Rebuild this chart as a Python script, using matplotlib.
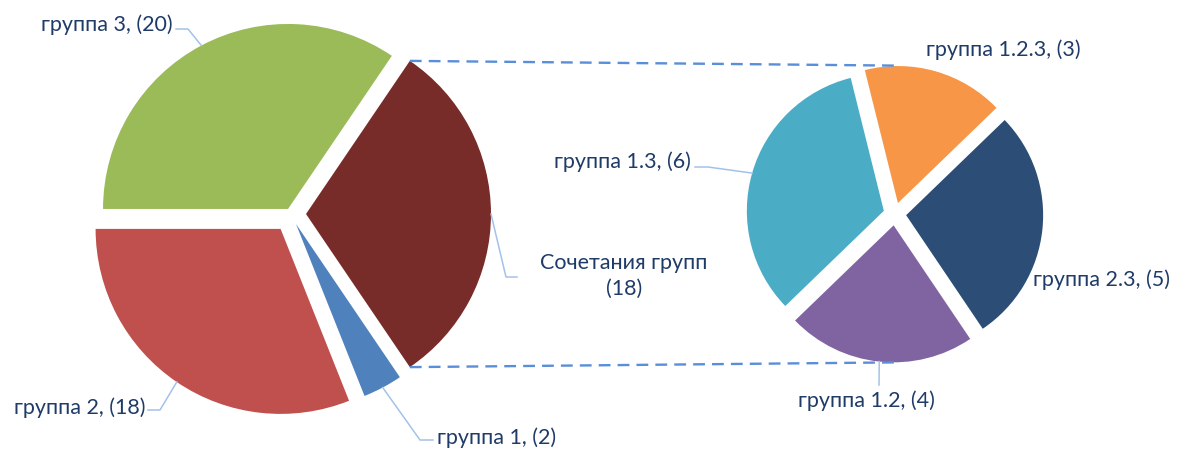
import matplotlib.pyplot as plt
import numpy as np

# данные: основная диаграмма и вторичная (сочетания групп)
main_labels = ['Сочетания групп', 'группа 3', 'группа 2', 'группа 1']
main_values = [18, 20, 18, 2]
main_colors = ['#772C2A', '#9BBB59', '#C0504D', '#4F81BD']

sub_labels = ['группа 1.2.3', 'группа 2.3', 'группа 1.2', 'группа 1.3']
sub_values = [3, 5, 4, 6]
sub_colors = ['#F79646', '#2C4D75', '#8064A2', '#4BACC6']

W, H = 1186, 454
text_color = '#1F3B68'
leader_color = '#A3C2E8'
plt.rcParams['font.family'] = ['Lato', 'DejaVu Sans']

fig = plt.figure(figsize=(W / 100, H / 100), dpi=100)
ax = fig.add_axes([0, 0, 1, 1])

# левая диаграмма: сектор "Сочетания" центрирован на 0 градусов
# (explode в pie задается в единицах данных, т.е. здесь в пикселях)
r1, c1 = 185, (290.7, 240)
start1 = -main_values[0] / sum(main_values) * 180
w1, _ = ax.pie(main_values, colors=main_colors, startangle=start1,
               explode=[15.3, 5.7, 18, 11.4], radius=r1, center=c1,
               wedgeprops=dict(linewidth=0))

# правая диаграмма
r2, c2 = 137, (894.8, 240)
ex2 = 11.4
w2, _ = ax.pie(sub_values, colors=sub_colors, startangle=104, counterclock=False,
               explode=[ex2] * 4, radius=r2, center=c2,
               wedgeprops=dict(linewidth=0))

ax.set_xlim(0, W)
ax.set_ylim(0, H)
ax.set_aspect('equal')
ax.axis('off')


def arc_point(w):
    a = np.deg2rad((w.theta1 + w.theta2) / 2)
    return w.center[0] + w.r * np.cos(a), w.center[1] + w.r * np.sin(a)


# пунктирные соединительные линии
other = w1[0]
reach = r2 + ex2
for th in (other.theta2, other.theta1):
    a = np.deg2rad(th)
    x0 = other.center[0] + other.r * np.cos(a)
    y0 = other.center[1] + other.r * np.sin(a)
    y1 = c2[1] + np.sign(np.sin(a)) * reach
    ax.plot([x0, c2[0]], [y0, y1], color='#5A8ED8', lw=1.7, ls=(0, (5, 3)))

# подписи: (текст xy, ha, излом, конец выноски)
main_layout = [
    ((624, 178), 'center', (506, 177), (517, 177)),
    ((173, 429), 'right', (188, 425), (176, 425)),
    ((145, 46), 'right', (160, 44), (148, 44)),
    ((437, 16), 'left', (420, 14), (433, 14)),
]
sub_layout = [
    ((926, 404), 'left', None, None),
    ((1033, 174), 'left', None, None),
    ((866, 53), 'center', (879, 69), (879, 69)),
    ((691, 292), 'right', (708, 287), (695, 287)),
]

for wedges, labels, values, layout in [(w1, main_labels, main_values, main_layout),
                                       (w2, sub_labels, sub_values, sub_layout)]:
    for w, lab, v, (xy, ha, elbow, end) in zip(wedges, labels, values, layout):
        if lab == 'Сочетания групп':
            txt = f'{lab}\n({v})'
        else:
            txt = f'{lab}, ({v})'
        ax.text(xy[0], xy[1], txt, ha=ha, va='center', fontsize=15.5,
                color=text_color, multialignment='center', linespacing=1.35)
        if elbow is not None:
            px, py = arc_point(w)
            ax.plot([px, elbow[0], end[0]], [py, elbow[1], end[1]],
                    color=leader_color, lw=1.1)

fig.savefig('out.png', dpi=100)
